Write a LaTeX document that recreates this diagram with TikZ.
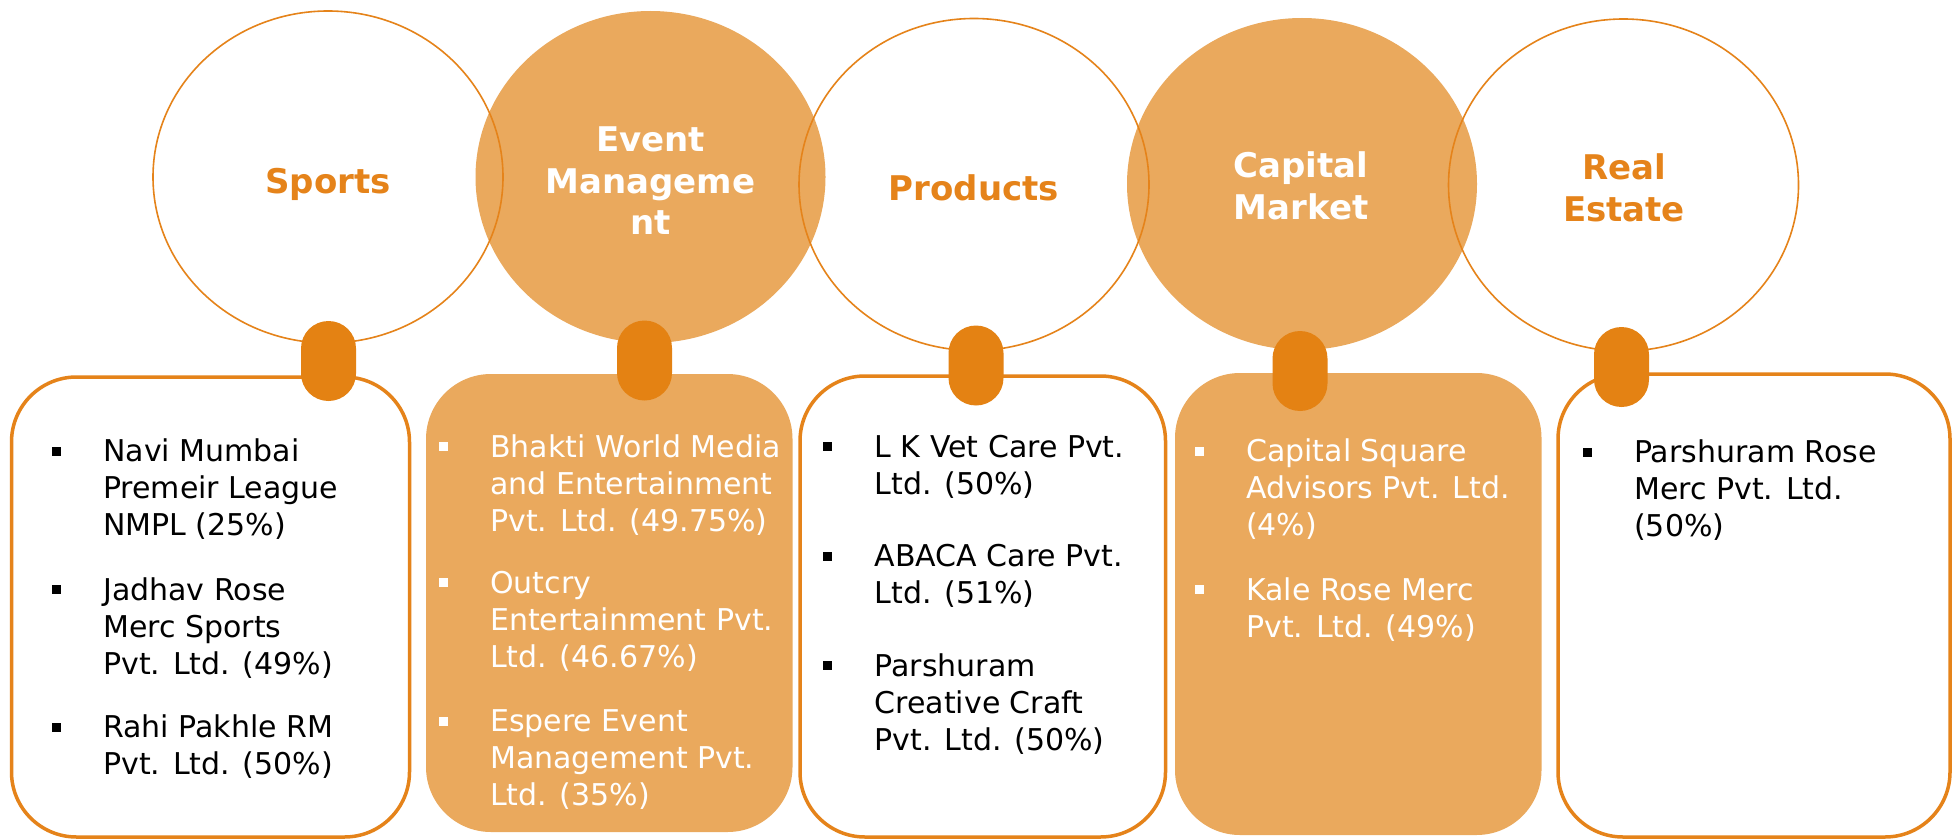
\documentclass[tikz,border=0pt]{standalone}
\usepackage{fontspec}
\setmainfont{DejaVu Sans}
\usetikzlibrary{shapes.geometric}
\definecolor{orangeline}{HTML}{E5831A}
\definecolor{orangefill}{HTML}{EAA95D}
\definecolor{tabcolor}{HTML}{E48213}
\newcommand{\blt}{\leavevmode\llap{\rule[6pt]{9pt}{9pt}\hspace{42.5pt}}}
\newcommand{\itemtext}[1]{\parbox[t]{420pt}{\raggedright\fontsize{30}{37}\selectfont #1}}
\newcommand{\headtext}[1]{\parbox[t]{340pt}{\centering\bfseries\fontsize{34}{42}\selectfont #1}}
\begin{document}
\begin{tikzpicture}[x=1pt,y=-1pt,
  circ/.style={ellipse, minimum width=350pt, minimum height=332pt, inner sep=0pt, outer sep=0pt},
  opencirc/.style={circ, draw=orangeline, line width=1.6pt},
  fullcirc/.style={circ, fill=orangefill},
  boxopen/.style={draw=orangeline, line width=3.5pt, fill=white, rounded corners=65pt},
  boxfull/.style={fill=orangefill, rounded corners=65pt},
  tab/.style={rectangle, fill=tabcolor, minimum width=55pt, minimum height=80pt, rounded corners=27.5pt, inner sep=0pt},
  head/.style={anchor=base, inner sep=0pt},
  itm/.style={anchor=base west, inner sep=0pt, text=black},
  itmw/.style={itm, text=white}
]
\useasboundingbox (0,0) rectangle (1954,840);
\fill[white] (0,0) rectangle (1954,840);

% filled circles
\node[fullcirc] (cEvent) at (650.5,177) {};
\node[fullcirc] (cCapital) at (1302,184) {};
% open circles
\node[opencirc] (cSports) at (328,177) {};
\node[opencirc] (cProducts) at (974,184.5) {};
\node[opencirc] (cReal) at (1623.5,185) {};

% headings
\node[head, text=orangeline] (tSports) at (328,193) {\headtext{Sports}};
\node[head, text=white] (tEvent) at (650.5,151) {\headtext{Event\\Manageme\\nt}};
\node[head, text=orangeline] (tProducts) at (974,200) {\headtext{Products}};
\node[head, text=white] (tCapital) at (1301,177) {\headtext{Capital\\Market}};
\node[head, text=orangeline] (tReal) at (1624,179) {\headtext{Real\\Estate}};

% boxes
\draw[boxopen] (11.5,377) rectangle (409.5,837);
\fill[boxfull] (426,374) rectangle (792.5,832);
\draw[boxopen] (800,376) rectangle (1165.5,837);
\fill[boxfull] (1175,373) rectangle (1541.5,835);
\draw[boxopen] (1558,374) rectangle (1950,837);

% tabs
\node[tab] (tab1) at (328.5,361) {};
\node[tab] (tab2) at (644.5,360.5) {};
\node[tab] (tab3) at (976,365.5) {};
\node[tab] (tab4) at (1300,371) {};
\node[tab] (tab5) at (1621.5,367) {};

% box 1
\node[itm] (s1) at (103,461.7) {\itemtext{\blt Navi Mumbai\\Premeir League\\NMPL (25\%)}};
\node[itm] (s2) at (103,600) {\itemtext{\blt Jadhav Rose\\Merc Sports\\Pvt. Ltd. (49\%)}};
\node[itm] (s3) at (103,737.7) {\itemtext{\blt Rahi Pakhle RM\\Pvt. Ltd. (50\%)}};

% box 2
\node[itmw] (e1) at (490,457) {\itemtext{\blt Bhakti World Media\\and Entertainment\\Pvt. Ltd. (49.75\%)}};
\node[itmw] (e2) at (490,593) {\itemtext{\blt Outcry\\Entertainment Pvt.\\Ltd. (46.67\%)}};
\node[itmw] (e3) at (490,731.7) {\itemtext{\blt Espere Event\\Management Pvt.\\Ltd. (35\%)}};

% box 3
\node[itm] (p1) at (874.5,457) {\itemtext{\blt L K Vet Care Pvt.\\Ltd. (50\%)}};
\node[itm] (p2) at (874.5,566.7) {\itemtext{\blt ABACA Care Pvt.\\Ltd. (51\%)}};
\node[itm] (p3) at (874.5,676) {\itemtext{\blt Parshuram\\Creative Craft\\Pvt. Ltd. (50\%)}};

% box 4
\node[itmw] (m1) at (1246,461.7) {\itemtext{\blt Capital Square\\Advisors Pvt. Ltd.\\(4\%)}};
\node[itmw] (m2) at (1246,600) {\itemtext{\blt Kale Rose Merc\\Pvt. Ltd. (49\%)}};

% box 5
\node[itm] (r1) at (1634,462.7) {\itemtext{\blt Parshuram Rose\\Merc Pvt. Ltd.\\(50\%)}};
\end{tikzpicture}
\end{document}
